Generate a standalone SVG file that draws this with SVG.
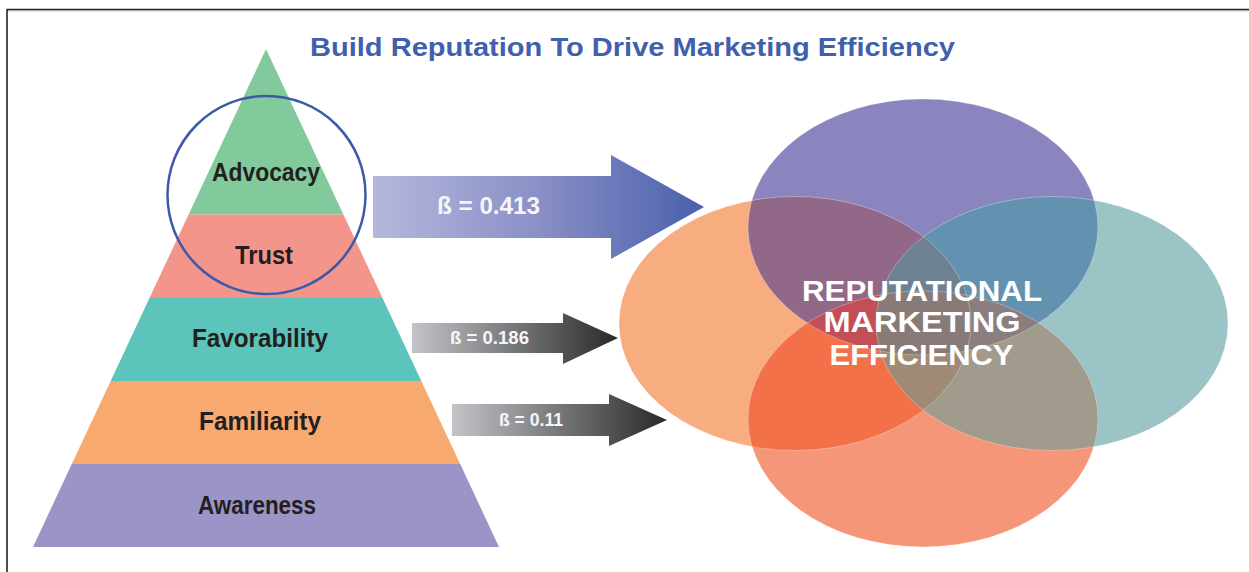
<svg xmlns="http://www.w3.org/2000/svg" xmlns:xlink="http://www.w3.org/1999/xlink" width="1249" height="572" viewBox="0 0 1249 572">
<style>
.lvl{font-family:"Liberation Sans",Arial,sans-serif;font-weight:bold;font-size:26px;fill:#231F20}
.beta{font-family:"Liberation Sans",Arial,sans-serif;font-weight:bold;fill:#F6F6FA}
.venn{font-family:"Liberation Sans",Arial,sans-serif;font-weight:bold;font-size:29.5px;fill:#FFFFFF}
.title{font-family:"Liberation Sans",Arial,sans-serif;font-weight:bold;font-size:25px;fill:#4160AC}
.edge{fill:none;stroke:#FFFFFF;stroke-opacity:0.35;stroke-width:0.8}
</style>
<defs>
<linearGradient id="gBlue" gradientUnits="userSpaceOnUse" x1="373" y1="0" x2="704" y2="0">
<stop offset="0" stop-color="#B5B8DC"/>
<stop offset="0.5" stop-color="#8A8FC6"/>
<stop offset="1" stop-color="#4960AC"/>
</linearGradient>
<linearGradient id="gGray1" gradientUnits="userSpaceOnUse" x1="412" y1="0" x2="618" y2="0">
<stop offset="0" stop-color="#C3C4C7"/>
<stop offset="1" stop-color="#29292B"/>
</linearGradient>
<linearGradient id="gGray2" gradientUnits="userSpaceOnUse" x1="452" y1="0" x2="667" y2="0">
<stop offset="0" stop-color="#C3C4C7"/>
<stop offset="1" stop-color="#29292B"/>
</linearGradient>
<ellipse id="eP" cx="923" cy="227" rx="175" ry="128"/>
<ellipse id="eS" cx="923" cy="419" rx="175" ry="128"/>
<ellipse id="eO" cx="795" cy="323.5" rx="176" ry="127"/>
<ellipse id="eT" cx="1052" cy="323.5" rx="176" ry="127"/>
<clipPath id="cP"><use xlink:href="#eP"/></clipPath>
<clipPath id="cS"><use xlink:href="#eS"/></clipPath>
<clipPath id="cO"><use xlink:href="#eO"/></clipPath>
<clipPath id="cT"><use xlink:href="#eT"/></clipPath>
</defs>

<g id="frame">
<line x1="7" y1="9.5" x2="1249" y2="9.5" stroke="#222222" stroke-width="1.6"/>
<line x1="7" y1="10.8" x2="1249" y2="10.8" stroke="#9A9A9A" stroke-width="0.8"/>
<line x1="7" y1="9" x2="7" y2="572" stroke="#222222" stroke-width="1.6"/>
</g>

<g id="title">
<text class="title" x="310" y="55.5" textLength="645" lengthAdjust="spacingAndGlyphs">Build Reputation To Drive Marketing Efficiency</text>
</g>

<g id="pyramid">
<g id="advocacy">
<polygon points="266,49 343.4,214.5 188.6,214.5" fill="#82CA9C"/>
<text class="lvl" x="212" y="180.5" textLength="108" lengthAdjust="spacingAndGlyphs">Advocacy</text>
</g>
<g id="trust">
<polygon points="188.6,214.5 343.4,214.5 382.5,298 149.5,298" fill="#F4958C"/>
<text class="lvl" x="235" y="263.5" textLength="58" lengthAdjust="spacingAndGlyphs">Trust</text>
</g>
<g id="favorability">
<polygon points="149.5,298 382.5,298 421.3,381 110.7,381" fill="#5CC4BB"/>
<text class="lvl" x="192" y="346.5" textLength="136" lengthAdjust="spacingAndGlyphs">Favorability</text>
</g>
<g id="familiarity">
<polygon points="110.7,381 421.3,381 460.2,464 71.8,464" fill="#F8A96F"/>
<text class="lvl" x="199" y="430" textLength="122" lengthAdjust="spacingAndGlyphs">Familiarity</text>
</g>
<g id="awareness">
<polygon points="71.8,464 460.2,464 499,547 33,547" fill="#9B94C7"/>
<text class="lvl" x="198" y="513.5" textLength="118" lengthAdjust="spacingAndGlyphs">Awareness</text>
</g>
<g id="highlight-circle">
<circle cx="266.5" cy="195" r="99" fill="none" stroke="#3D5AA8" stroke-width="2.5"/>
</g>
</g>

<g id="venn">
<use xlink:href="#eP" fill="#8A85BE"/>
<use xlink:href="#eO" fill="#F8AD80"/>
<use xlink:href="#eT" fill="#9BC4C6"/>
<use xlink:href="#eS" fill="#F59679"/>
<use xlink:href="#eP" clip-path="url(#cO)" fill="#926889"/>
<use xlink:href="#eP" clip-path="url(#cT)" fill="#6391B0"/>
<use xlink:href="#eO" clip-path="url(#cS)" fill="#F27149"/>
<use xlink:href="#eT" clip-path="url(#cS)" fill="#A19B8D"/>
<g clip-path="url(#cT)"><use xlink:href="#eP" clip-path="url(#cO)" fill="#6D8190"/></g>
<g clip-path="url(#cS)"><use xlink:href="#eP" clip-path="url(#cO)" fill="#C24E57"/></g>
<g clip-path="url(#cS)"><use xlink:href="#eP" clip-path="url(#cT)" fill="#8A7F7E"/></g>
<g clip-path="url(#cS)"><use xlink:href="#eO" clip-path="url(#cT)" fill="#A18A75"/></g>
<g clip-path="url(#cS)"><g clip-path="url(#cT)"><use xlink:href="#eP" clip-path="url(#cO)" fill="#877A77"/></g></g>
<use xlink:href="#eP" class="edge"/>
<use xlink:href="#eO" class="edge"/>
<use xlink:href="#eT" class="edge"/>
<use xlink:href="#eS" class="edge"/>
<text class="venn" x="922" y="300.5" text-anchor="middle" textLength="240" lengthAdjust="spacingAndGlyphs">REPUTATIONAL</text>
<text class="venn" x="922" y="332" text-anchor="middle" textLength="197" lengthAdjust="spacingAndGlyphs">MARKETING</text>
<text class="venn" x="921.5" y="364.5" text-anchor="middle" textLength="184" lengthAdjust="spacingAndGlyphs">EFFICIENCY</text>
</g>

<g id="connectors">
<g id="arrow-advocacy">
<polygon points="373,176 611,176 611,155 704,207 611,259 611,238 373,238" fill="url(#gBlue)"/>
<text class="beta" x="437" y="213.5" font-size="23" textLength="103" lengthAdjust="spacingAndGlyphs">ß = 0.413</text>
</g>
<g id="arrow-favorability">
<polygon points="412,323 563,323 563,313 618,338 563,364 563,353 412,353" fill="url(#gGray1)"/>
<text class="beta" x="450" y="344" font-size="18.5" textLength="79" lengthAdjust="spacingAndGlyphs">ß = 0.186</text>
</g>
<g id="arrow-familiarity">
<polygon points="452,404 609,404 609,394 667,420 609,446 609,436 452,436" fill="url(#gGray2)"/>
<text class="beta" x="499" y="426" font-size="18" textLength="64" lengthAdjust="spacingAndGlyphs">ß = 0.11</text>
</g>
</g>
</svg>
